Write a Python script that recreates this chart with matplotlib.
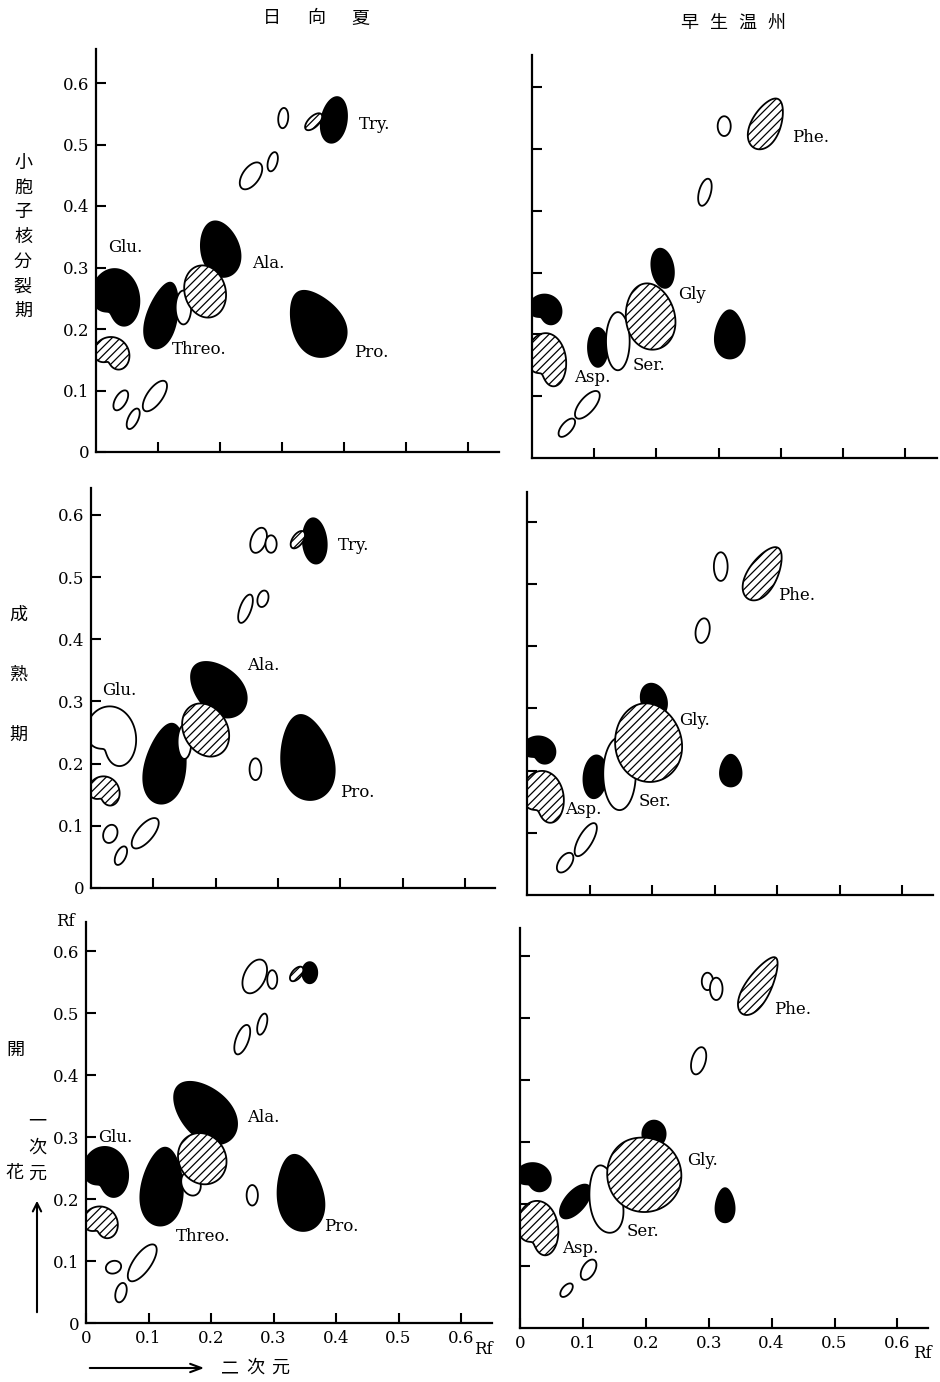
import numpy as np
import matplotlib
matplotlib.use('Agg')
import matplotlib.pyplot as plt
from matplotlib.patches import Polygon, FancyArrowPatch

SERIF = 'DejaVu Serif'
CJK = 'Noto Sans CJK JP'
W, H = 940, 1382

# ===== データ: 各スポット (x, y, 幅, 高さ, 傾き, 種類, 先細り, 凹み方向, 凹み深さ) =====
# 種類: 'k' = 黒塗り, 'h' = 斜線, 'o' = 白抜き
hyuga_meiosis = [
    (0.384, 0.540, 0.043, 0.075, -10, 'k', 0.1, 0, 0),
    (0.351, 0.537, 0.017, 0.035, -45, 'h', 0, 0, 0),
    (0.302, 0.543, 0.016, 0.033, -5, 'o', 0, 0, 0),
    (0.250, 0.449, 0.027, 0.050, -35, 'o', 0, 0, 0),
    (0.285, 0.472, 0.015, 0.032, -15, 'o', 0, 0, 0),
    (0.200, 0.330, 0.068, 0.092, 15, 'k', 0.2, 0, 0),
    (0.176, 0.261, 0.066, 0.086, 15, 'h', 0, 0, 0),
    (0.141, 0.235, 0.025, 0.055, 0, 'o', 0, 0, 0),
    (0.107, 0.222, 0.058, 0.110, -15, 'k', 0.35, 0, 0),
    (0.030, 0.245, 0.080, 0.105, 0, 'k', 0, 240, 0.6),
    (0.024, 0.156, 0.060, 0.062, 0, 'h', 0, 245, 0.65),
    (0.040, 0.084, 0.018, 0.036, -30, 'o', 0, 0, 0),
    (0.060, 0.054, 0.016, 0.036, -25, 'o', 0, 0, 0),
    (0.095, 0.091, 0.025, 0.058, -35, 'o', 0, 0, 0),
    (0.355, 0.210, 0.100, 0.115, 30, 'k', 0.4, 0, 0),
]
wase_meiosis = [
    (0.377, 0.541, 0.055, 0.088, -25, 'h', 0.3, 0, 0),
    (0.309, 0.537, 0.021, 0.032, 0, 'o', 0, 0, 0),
    (0.278, 0.430, 0.019, 0.045, -15, 'o', 0, 0, 0),
    (0.210, 0.307, 0.035, 0.064, 10, 'k', 0, 0, 0),
    (0.190, 0.229, 0.085, 0.108, 10, 'h', 0.15, 0, 0),
    (0.138, 0.189, 0.038, 0.094, 0, 'o', 0, 0, 0),
    (0.106, 0.179, 0.032, 0.063, 0, 'k', 0, 0, 0),
    (0.020, 0.237, 0.055, 0.055, 0, 'k', 0, 240, 0.6),
    (0.022, 0.153, 0.066, 0.098, 0, 'h', 0, 240, 0.6),
    (0.089, 0.086, 0.024, 0.055, -40, 'o', 0, 0, 0),
    (0.056, 0.049, 0.017, 0.036, -40, 'o', 0, 0, 0),
    (0.318, 0.200, 0.057, 0.078, 0, 'k', 0.35, 0, 0),
]
hyuga_mature = [
    (0.359, 0.558, 0.040, 0.073, 5, 'k', 0.1, 0, 0),
    (0.332, 0.560, 0.017, 0.032, -35, 'h', 0, 0, 0),
    (0.269, 0.559, 0.024, 0.042, -20, 'o', 0, 0, 0),
    (0.289, 0.553, 0.018, 0.028, 0, 'o', 0, 0, 0),
    (0.248, 0.449, 0.018, 0.048, -20, 'o', 0, 0, 0),
    (0.276, 0.465, 0.017, 0.027, -15, 'o', 0, 0, 0),
    (0.204, 0.320, 0.078, 0.105, 45, 'k', 0.2, 0, 0),
    (0.184, 0.254, 0.070, 0.090, 30, 'h', 0, 0, 0),
    (0.150, 0.235, 0.022, 0.055, 0, 'o', 0, 0, 0),
    (0.120, 0.200, 0.078, 0.130, -10, 'k', 0.35, 0, 0),
    (0.030, 0.238, 0.085, 0.108, 0, 'o', 0, 235, 0.65),
    (0.020, 0.152, 0.052, 0.055, 0, 'h', 0, 245, 0.65),
    (0.031, 0.087, 0.022, 0.030, -20, 'o', 0, 0, 0),
    (0.048, 0.052, 0.016, 0.032, -25, 'o', 0, 0, 0),
    (0.087, 0.088, 0.026, 0.060, -40, 'o', 0, 0, 0),
    (0.264, 0.191, 0.019, 0.035, 0, 'o', 0, 0, 0),
    (0.346, 0.210, 0.100, 0.138, 10, 'k', 0.35, 0, 0),
]
wase_mature = [
    (0.378, 0.517, 0.055, 0.095, -30, 'h', 0.3, 0, 0),
    (0.310, 0.528, 0.022, 0.046, 0, 'o', 0, 0, 0),
    (0.281, 0.425, 0.022, 0.040, -10, 'o', 0, 0, 0),
    (0.203, 0.313, 0.040, 0.055, 20, 'k', 0, 0, 0),
    (0.194, 0.245, 0.112, 0.127, 10, 'h', 0.1, 0, 0),
    (0.148, 0.195, 0.052, 0.117, 0, 'o', 0, 0, 0),
    (0.109, 0.190, 0.037, 0.069, -5, 'k', 0, 0, 0),
    (0.018, 0.230, 0.055, 0.050, 0, 'k', 0, 240, 0.6),
    (0.024, 0.152, 0.070, 0.095, 0, 'h', 0, 240, 0.6),
    (0.094, 0.089, 0.022, 0.060, -30, 'o', 0, 0, 0),
    (0.061, 0.052, 0.020, 0.036, -35, 'o', 0, 0, 0),
    (0.326, 0.200, 0.040, 0.051, 0, 'k', 0.3, 0, 0),
]
hyuga_bloom = [
    (0.358, 0.565, 0.024, 0.034, 0, 'k', 0, 0, 0),
    (0.337, 0.563, 0.015, 0.028, -40, 'h', 0, 0, 0),
    (0.270, 0.559, 0.034, 0.058, -25, 'o', 0, 0, 0),
    (0.298, 0.554, 0.016, 0.030, 0, 'o', 0, 0, 0),
    (0.250, 0.457, 0.020, 0.050, -20, 'o', 0, 0, 0),
    (0.282, 0.482, 0.014, 0.035, -15, 'o', 0, 0, 0),
    (0.190, 0.340, 0.085, 0.120, 45, 'k', 0.2, 0, 0),
    (0.186, 0.265, 0.075, 0.085, 30, 'h', 0, 0, 0),
    (0.168, 0.225, 0.030, 0.040, 20, 'o', 0, 0, 0),
    (0.122, 0.220, 0.080, 0.126, -5, 'k', 0.35, 0, 0),
    (0.030, 0.238, 0.075, 0.092, 0, 'k', 0, 240, 0.6),
    (0.022, 0.158, 0.058, 0.060, 0, 'h', 0, 245, 0.65),
    (0.044, 0.090, 0.025, 0.020, 20, 'o', 0, 0, 0),
    (0.056, 0.049, 0.017, 0.032, -15, 'o', 0, 0, 0),
    (0.090, 0.097, 0.028, 0.070, -35, 'o', 0, 0, 0),
    (0.266, 0.206, 0.018, 0.033, 0, 'o', 0, 0, 0),
    (0.342, 0.210, 0.087, 0.124, 10, 'k', 0.35, 0, 0),
]
wase_bloom = [
    (0.380, 0.552, 0.050, 0.105, -30, 'h', 0.4, 0, 0),
    (0.298, 0.559, 0.018, 0.028, 0, 'o', 0, 0, 0),
    (0.312, 0.547, 0.020, 0.036, 0, 'o', 0, 0, 0),
    (0.284, 0.431, 0.022, 0.045, -15, 'o', 0, 0, 0),
    (0.213, 0.313, 0.037, 0.043, 0, 'k', 0, 0, 0),
    (0.197, 0.251, 0.124, 0.128, 10, 'h', 0.1, 80, 0.12),
    (0.136, 0.208, 0.060, 0.110, 10, 'o', 0.3, 0, 0),
    (0.088, 0.204, 0.032, 0.066, -40, 'k', 0, 0, 0),
    (0.020, 0.240, 0.058, 0.052, 0, 'k', 0, 240, 0.6),
    (0.027, 0.155, 0.068, 0.100, 0, 'h', 0, 240, 0.6),
    (0.109, 0.094, 0.020, 0.036, -30, 'o', 0, 0, 0),
    (0.074, 0.061, 0.014, 0.026, -40, 'o', 0, 0, 0),
    (0.326, 0.198, 0.036, 0.055, 0, 'k', 0.35, 0, 0),
]

# ===== ラベル (名前, x, y) =====
hyuga_meiosis_labels = [('Try.', 0.424, 0.532), ('Glu.', 0.020, 0.332), ('Ala.', 0.252, 0.307),
                        ('Threo.', 0.122, 0.166), ('Pro.', 0.416, 0.161)]
wase_meiosis_labels = [('Phe.', 0.418, 0.519), ('Gly', 0.235, 0.265), ('Ser.', 0.161, 0.150),
                       ('Asp.', 0.068, 0.131)]
hyuga_mature_labels = [('Try.', 0.397, 0.551), ('Glu.', 0.018, 0.318), ('Ala.', 0.250, 0.358),
                       ('Pro.', 0.400, 0.154)]
wase_mature_labels = [('Phe.', 0.402, 0.482), ('Gly.', 0.243, 0.281), ('Ser.', 0.179, 0.150),
                      ('Asp.', 0.061, 0.137)]
hyuga_bloom_labels = [('Glu.', 0.019, 0.300), ('Ala.', 0.258, 0.331), ('Threo.', 0.144, 0.139),
                      ('Pro.', 0.381, 0.155)]
wase_bloom_labels = [('Phe.', 0.404, 0.513), ('Gly.', 0.265, 0.270), ('Ser.', 0.169, 0.155),
                     ('Asp.', 0.067, 0.129)]

tick_values = [0, 0.1, 0.2, 0.3, 0.4, 0.5, 0.6]
tick_labels = ['0', '0.1', '0.2', '0.3', '0.4', '0.5', '0.6']

# パネル配置 (原点x, 原点y, x縮尺, y縮尺, 右端, 上端) ピクセル
layout = [
    (96, 452, 620, 615, 499, 49),
    (532, 458, 622, 618, 937, 55),
    (91, 888, 623, 622, 495, 488),
    (527, 895, 625, 622, 933, 492),
    (86, 1323, 625, 620, 492, 922),
    (520, 1328, 629, 620, 928, 928),
]
panels = [hyuga_meiosis, wase_meiosis, hyuga_mature, wase_mature, hyuga_bloom, wase_bloom]
panel_labels = [hyuga_meiosis_labels, wase_meiosis_labels, hyuga_mature_labels,
                wase_mature_labels, hyuga_bloom_labels, wase_bloom_labels]


def blob_xy(x, y, w, h, ang, taper, dent_dir, dent):
    # 楕円をもとに、先細り・凹みを加えた輪郭
    t = np.linspace(0, 2 * np.pi, 241)
    d = np.angle(np.exp(1j * (t - np.radians(dent_dir))))
    r = 1 - dent * np.exp(-(d / 0.85) ** 2)
    px = 0.5 * w * np.cos(t) * r * (1 - taper * (1 + np.sin(t)) / 2)
    py = 0.5 * h * np.sin(t) * r
    a = np.radians(ang)
    return np.column_stack([x + px * np.cos(a) - py * np.sin(a),
                            y + px * np.sin(a) + py * np.cos(a)])


STYLE = {
    'k': dict(facecolor='black', edgecolor='black', zorder=1.0),
    'o': dict(facecolor='white', edgecolor='black', zorder=1.2),
    'h': dict(facecolor='white', edgecolor='black', hatch='////', zorder=1.4),
}

plt.rcParams['hatch.linewidth'] = 0.9
fig = plt.figure(figsize=(W / 100, H / 100), dpi=100)

for i, (x0, y0, sx, sy, right, top) in enumerate(layout):
    ax = fig.add_axes([x0 / W, 1 - y0 / H, (right - x0) / W, (y0 - top) / H])
    ax.set_xlim(0, (right - x0) / sx)
    ax.set_ylim(0, (y0 - top) / sy)
    for s in ['top', 'right']:
        ax.spines[s].set_visible(False)
    for s in ['left', 'bottom']:
        ax.spines[s].set_linewidth(1.6)
    ax.tick_params(direction='in', length=7, width=1.5, labelsize=12, pad=5)

    left_col = i % 2 == 0
    bottom_row = i >= 4
    if left_col:
        ax.set_yticks(tick_values)
        ax.set_yticklabels(tick_labels, fontfamily=SERIF)
    else:
        ax.set_yticks(tick_values[1:])
        ax.set_yticklabels([])
    if bottom_row:
        ax.set_xticks(tick_values)
        ax.set_xticklabels(tick_labels, fontfamily=SERIF)
    else:
        ax.set_xticks(tick_values[1:])
        ax.set_xticklabels([])

    for (x, y, w, h, ang, kind, taper, ddir, dent) in panels[i]:
        ax.add_patch(Polygon(blob_xy(x, y, w, h, ang, taper, ddir, dent), closed=True,
                             linewidth=1.3, **STYLE[kind]))
    for (name, x, y) in panel_labels[i]:
        ax.text(x, y, name, fontsize=12, fontfamily=SERIF, ha='left', va='center')

# 見出し (日向夏 / 早生温州)
for k, ch in enumerate('日向夏'):
    fig.text((272 + 44 * k) / W, 1 - 18 / H, ch, fontsize=13, fontfamily=CJK, ha='center', va='center')
for k, ch in enumerate('早生温州'):
    fig.text((689 + 29 * k) / W, 1 - 23 / H, ch, fontsize=13, fontfamily=CJK, ha='center', va='center')

# 時期ラベル
for k, ch in enumerate('小胞子核分裂期'):
    fig.text(23 / W, 1 - (163 + 24.7 * k) / H, ch, fontsize=13, fontfamily=CJK, ha='center', va='center')
for k, ch in enumerate('成熟期'):
    fig.text(18 / W, 1 - (615 + 60 * k) / H, ch, fontsize=13, fontfamily=CJK, ha='center', va='center')
fig.text(15 / W, 1 - 1050 / H, '開', fontsize=13, fontfamily=CJK, ha='center', va='center')
fig.text(14 / W, 1 - 1173 / H, '花', fontsize=13, fontfamily=CJK, ha='center', va='center')
for k, ch in enumerate('一次元'):
    fig.text(37 / W, 1 - (1122 + 26 * k) / H, ch, fontsize=13, fontfamily=CJK, ha='center', va='center')
for k, ch in enumerate('二次元'):
    fig.text((230 + 25 * k) / W, 1 - 1368 / H, ch, fontsize=13, fontfamily=CJK, ha='center', va='center')

# 矢印
fig.add_artist(FancyArrowPatch((37 / W, 1 - 1315 / H), (37 / W, 1 - 1198 / H),
                               transform=fig.transFigure, arrowstyle='->,head_length=6,head_width=3',
                               linewidth=1.5, color='black'))
fig.add_artist(FancyArrowPatch((87 / W, 1 - 1368 / H), (207 / W, 1 - 1368 / H),
                               transform=fig.transFigure, arrowstyle='->,head_length=8,head_width=3',
                               linewidth=1.5, color='black'))

# Rf
fig.text(65 / W, 1 - 921 / H, 'Rf', fontsize=12, fontfamily=SERIF, ha='center', va='center')
fig.text(483 / W, 1 - 1350 / H, 'Rf', fontsize=12, fontfamily=SERIF, ha='center', va='center')
fig.text(922 / W, 1 - 1354 / H, 'Rf', fontsize=12, fontfamily=SERIF, ha='center', va='center')

fig.savefig('out.png', dpi=100, facecolor='white')
